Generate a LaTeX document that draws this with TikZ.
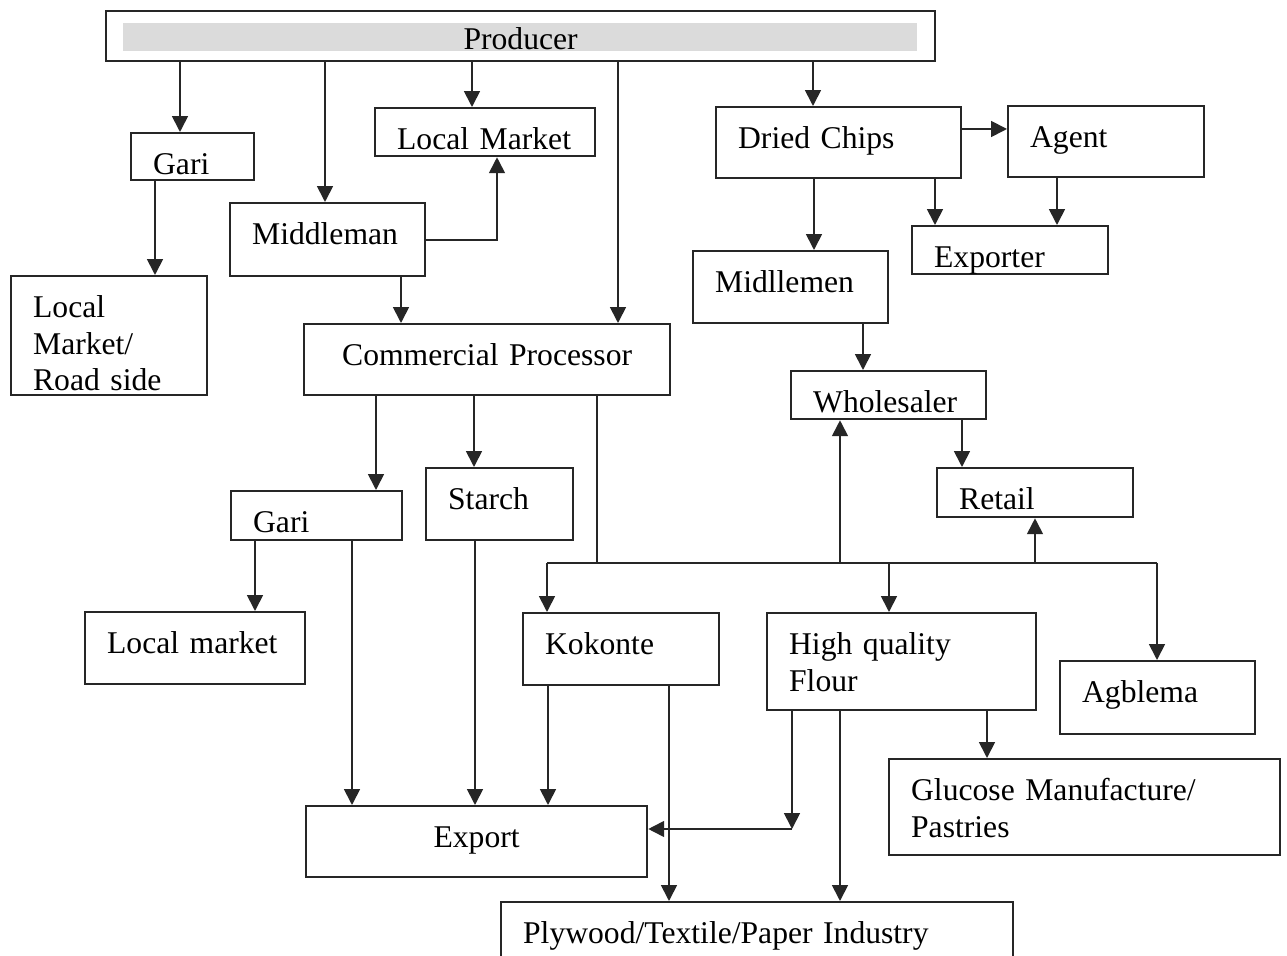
\documentclass[tikz,border=0pt]{standalone}
\usepackage{fontspec}
\setmainfont{Liberation Serif}
\usepackage{tikz}
\usetikzlibrary{arrows.meta,calc,positioning}

\begin{document}
\begin{tikzpicture}[>={Triangle[length=9pt,width=9pt]},
  box/.style={draw=black!85, line width=1.3pt, anchor=north west, align=left,
    inner xsep=0.44cm, inner ysep=0pt, text height=0.82cm,
    font=\fontsize{18}{21}\selectfont},
  link/.style={draw=black!85, line width=1pt}]
  \path[use as bounding box, fill=white] (0,0) rectangle (25.74,-19.12);

  % Top row
  \node[box, align=center, text width=15.70cm, text height=0.76cm, text depth=0.24cm,
    path picture={\fill[gray!28] ([shift={(0.34,-0.24)}]path picture bounding box.north west)
      rectangle ([shift={(-0.36,0.20)}]path picture bounding box.south east);}]
    (producer) at (2.10,-0.20) {Producer};
  \node[box, text width=1.58cm, text depth=0.12cm] (gari1) at (2.60,-2.64) {Gari};
  \node[box, text width=3.52cm, text depth=0.14cm] (localmkt) at (7.48,-2.14) {Local Market};
  \node[box, text width=3.02cm, text depth=0.64cm] (middleman) at (4.58,-4.04) {Middleman};
  \node[box, text width=3.04cm, text depth=1.56cm] (roadside) at (0.20,-5.50) {Local\\Market/\\Road side};
  \node[box, align=center, text width=6.44cm, text depth=0.60cm] (processor) at (6.06,-6.46) {Commercial Processor};

  % Dried chips branch
  \node[box, text width=4.02cm, text depth=0.60cm] (chips) at (14.30,-2.12) {Dried Chips};
  \node[box, text width=3.04cm, text depth=0.60cm] (agent) at (20.14,-2.10) {Agent};
  \node[box, text width=3.04cm, text depth=0.14cm] (exporter) at (18.22,-4.50) {Exporter};
  \node[box, text width=3.02cm, text depth=0.62cm] (midllemen) at (13.84,-5.00) {Midllemen};
  \node[box, text width=3.02cm, text depth=0.14cm] (wholesaler) at (15.80,-7.40) {Wholesaler};
  \node[box, text width=3.04cm, text depth=0.16cm] (retail) at (18.72,-9.34) {Retail};

  % Products
  \node[box, text width=2.54cm, text depth=0.16cm] (gari2) at (4.60,-9.80) {Gari};
  \node[box, text width=2.06cm, text depth=0.62cm] (starch) at (8.50,-9.34) {Starch};
  \node[box, text width=3.52cm, text depth=0.62cm] (localmarket) at (1.68,-12.22) {Local market};
  \node[box, text width=3.04cm, text depth=0.62cm] (kokonte) at (10.44,-12.24) {Kokonte};
  \node[box, text width=4.50cm, text depth=1.12cm] (flour) at (15.32,-12.24) {High quality\\Flour};
  \node[box, text width=3.02cm, text depth=0.64cm] (agblema) at (21.18,-13.20) {Agblema};
  \node[box, text width=6.94cm, text depth=1.10cm] (glucose) at (17.76,-15.16) {Glucose Manufacture/\\Pastries};
  \node[box, align=center, text width=5.94cm, text depth=0.60cm] (export) at (6.10,-16.10) {Export};
  \node[box, text width=9.36cm, text depth=0.38cm] (plywood) at (10.00,-18.02) {Plywood/Textile/Paper Industry};

  % From producer
  \draw[link,->] (3.60,0 |- producer.south) -- (3.60,0 |- gari1.north);
  \draw[link,->] (6.50,0 |- producer.south) -- (6.50,0 |- middleman.north);
  \draw[link,->] (9.44,0 |- producer.south) -- (9.44,0 |- localmkt.north);
  \draw[link,->] (12.36,0 |- producer.south) -- (12.36,0 |- processor.north);
  \draw[link,->] (16.26,0 |- producer.south) -- (16.26,0 |- chips.north);

  \draw[link,->] (3.10,0 |- gari1.south) -- (3.10,0 |- roadside.north);
  \draw[link,->] (middleman.east |- 0,-4.80) -| (9.94,0 |- localmkt.south);
  \draw[link,->] (8.02,0 |- middleman.south) -- (8.02,0 |- processor.north);

  \draw[link,->] (chips.east |- 0,-2.58) -- (agent.west |- 0,-2.58);
  \draw[link,->] (18.70,0 |- chips.south) -- (18.70,0 |- exporter.north);
  \draw[link,->] (21.14,0 |- agent.south) -- (21.14,0 |- exporter.north);
  \draw[link,->] (16.28,0 |- chips.south) -- (16.28,0 |- midllemen.north);
  \draw[link,->] (17.26,0 |- midllemen.south) -- (17.26,0 |- wholesaler.north);
  \draw[link,->] (19.24,0 |- wholesaler.south) -- (19.24,0 |- retail.north);

  % Processor outputs
  \draw[link,->] (7.52,0 |- processor.south) -- (7.52,0 |- gari2.north);
  \draw[link,->] (9.48,0 |- processor.south) -- (9.48,0 |- starch.north);
  \coordinate (busL) at (10.94,-11.26);
  \coordinate (busR) at (23.14,-11.26);
  \draw[link] (11.94,0 |- processor.south) -- (11.94,0 |- busL);
  \draw[link] (busL) -- (busR);
  \draw[link,->] (busL) -- (busL |- kokonte.north);
  \draw[link,->] (17.78,0 |- busL) -- (17.78,0 |- flour.north);
  \draw[link,->] (busR) -- (busR |- agblema.north);
  \draw[link,->] (16.80,0 |- busL) -- (16.80,0 |- wholesaler.south);
  \draw[link,->] (20.70,0 |- busL) -- (20.70,0 |- retail.south);

  % Down to export and industry
  \draw[link,->] (5.10,0 |- gari2.south) -- (5.10,0 |- localmarket.north);
  \draw[link,->] (7.04,0 |- gari2.south) -- (7.04,0 |- export.north);
  \draw[link,->] (9.50,0 |- starch.south) -- (9.50,0 |- export.north);
  \draw[link,->] (10.96,0 |- kokonte.south) -- (10.96,0 |- export.north);
  \draw[link,->] (13.38,0 |- kokonte.south) -- (13.38,0 |- plywood.north);
  \coordinate (fcorner) at (15.84,-16.58);
  \draw[link,->] (15.84,0 |- flour.south) -- (fcorner);
  \draw[link,->] (fcorner) -- (export.east |- fcorner);
  \draw[link,->] (16.80,0 |- flour.south) -- (16.80,0 |- plywood.north);
  \draw[link,->] (19.74,0 |- flour.south) -- (19.74,0 |- glucose.north);
\end{tikzpicture}
\end{document}
